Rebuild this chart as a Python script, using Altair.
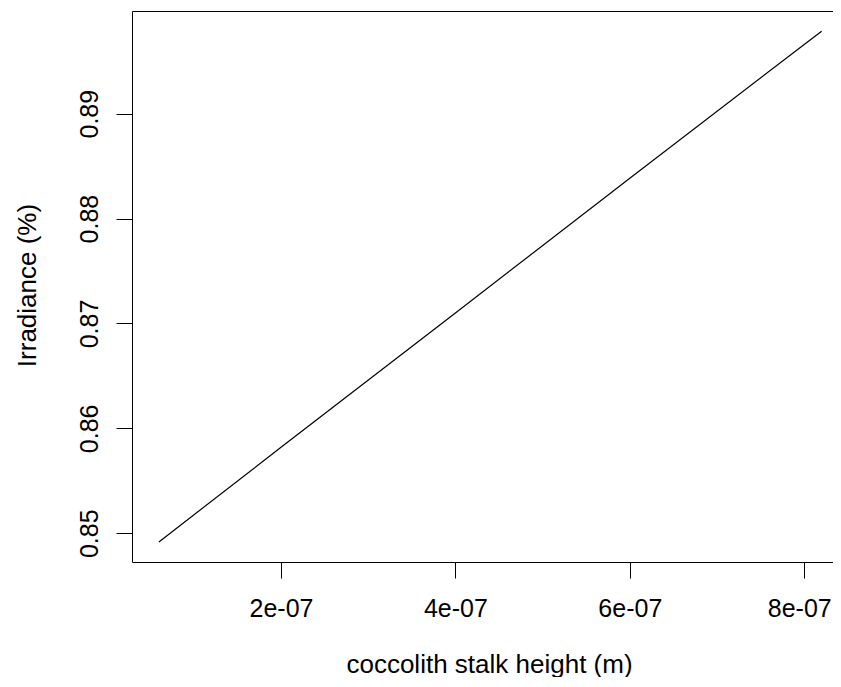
import altair as alt
import pandas as pd

# values
stalk_height = [6.0e-08, 2.0e-07, 4.0e-07, 6.0e-07, 8.0e-07, 8.2e-07]
irradiance = [0.84917, 0.85820, 0.87100, 0.88385, 0.89660, 0.89785]
x_ticks = [2e-07, 4e-07, 6e-07, 8e-07]
x_tick_labels = ["2e-07", "4e-07", "6e-07", "8e-07"]
y_ticks = [0.85, 0.86, 0.87, 0.88, 0.89]

df = pd.DataFrame({"h": stalk_height, "irr": irradiance})

FONT = "Liberation Sans"
X_DOMAIN = [2.913e-08, 8.330e-07]
Y_DOMAIN = [0.84726, 0.89979]

label_expr = " : ".join(
    f"abs(datum.value - {v}) < 1e-12 ? '{l}'" for v, l in zip(x_ticks, x_tick_labels)
) + " : ''"

x_scale = alt.Scale(domain=X_DOMAIN, nice=False, zero=False)
y_scale = alt.Scale(domain=Y_DOMAIN, nice=False, zero=False)

line = alt.Chart(df).mark_line(color="black", strokeWidth=1.2, clip=True).encode(
    x=alt.X(
        "h:Q",
        scale=x_scale,
        axis=alt.Axis(
            orient="bottom",
            values=x_ticks,
            labelExpr=label_expr,
            title="coccolith stalk height (m)",
            tickSize=16,
            labelPadding=38,
            labelBaseline="alphabetic",
            labelOffset={"condition": {"test": "datum.value > 7e-7", "value": -5}, "value": 0},
            labelFlush=False,
            labelOverlap=False,
            titleY=110,
            titleX=357,
            titleBaseline="alphabetic",
            grid=False,
        ),
    ),
    y=alt.Y(
        "irr:Q",
        scale=y_scale,
        axis=alt.Axis(
            orient="left",
            values=y_ticks,
            format=".2f",
            title="Irradiance (%)",
            tickSize=16,
            labelAngle=270,
            labelAlign="center",
            labelBaseline="alphabetic",
            labelPadding=19,
            labelFlush=False,
            labelOverlap=False,
            titleX=-97,
            titleY=274,
            titleAngle=270,
            titleBaseline="alphabetic",
            grid=False,
        ),
    ),
    order="h:Q",
)

top_border = alt.Chart(df).mark_line(opacity=0).encode(
    x=alt.X(
        "h:Q",
        scale=x_scale,
        axis=alt.Axis(orient="top", labels=False, ticks=False, title=None, grid=False),
    ),
    y=alt.Y("irr:Q", scale=y_scale),
)

chart = (
    alt.layer(line, top_border)
    .properties(
        width=701,
        height=551,
        autosize=alt.AutoSizeParams(type="none"),
        padding={"left": 124, "top": 3, "right": 0, "bottom": 115},
        background="white",
    )
    .configure_view(stroke=None)
    .configure_axis(
        domainColor="black",
        domainWidth=1,
        tickColor="black",
        tickWidth=1,
        labelColor="black",
        labelFont=FONT,
        labelFontSize=25,
        titleColor="black",
        titleFont=FONT,
        titleFontSize=26,
        titleFontWeight="normal",
    )
)

chart.save("out.html", embed_options={"renderer": "svg", "actions": False})
